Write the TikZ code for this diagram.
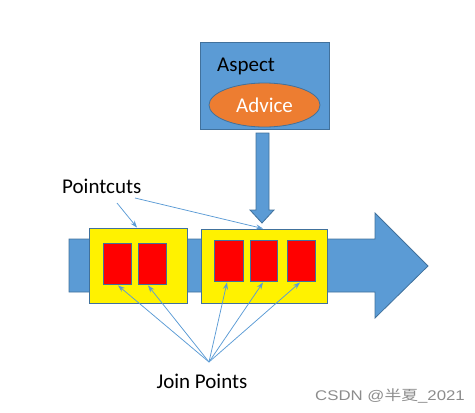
\documentclass[tikz,border=0pt]{standalone}
\usepackage{fontspec}
\setmainfont{Carlito}
\newfontfamily\cjk{Noto Sans CJK SC}
\newfontfamily\wmfont{Liberation Sans}
\usetikzlibrary{calc,arrows.meta,shapes.geometric}
\definecolor{aBlue}{HTML}{5B9BD5}
\definecolor{aBorder}{HTML}{41719C}
\definecolor{aOrange}{HTML}{ED7D31}
\tikzset{
  bluefill/.style={fill=aBlue,draw=aBorder,line width=0.8pt},
  ybox/.style={rectangle,fill=yellow,draw=aBorder,line width=0.9pt,inner sep=0},
  rbox/.style={rectangle,fill=red,draw=aBorder,line width=0.9pt,inner sep=0,minimum height=41pt},
  lbl/.style={font=\fontsize{21}{25}\selectfont,inner sep=0},
  pointer/.style={draw=aBlue,line width=0.75pt,-{Stealth[length=7pt,width=5pt]}},
}
\begin{document}
\begin{tikzpicture}[x=1pt,y=-1pt]
\useasboundingbox (0,0) rectangle (475,413);
% Aspect box
\node[rectangle,bluefill,minimum width=129pt,minimum height=87pt,inner sep=0] (aspect) at (264.5,85.5) {};
\node[lbl,anchor=west] (aspectlbl) at (217,66) {Aspect};
\node[ellipse,fill=aOrange,draw=aBorder,line width=0.8pt,minimum width=111pt,minimum height=44pt,inner sep=0,text=white,font=\fontsize{21}{25}\selectfont] (advice) at (264.5,105) {Advice};
% down arrow
\draw[bluefill] (256,133) -- (269,133) -- (269,210) -- (274,210) -- (262,223) -- (250,210) -- (256,210) -- cycle;
% big arrow
\draw[bluefill] (69,239) -- (375,239) -- (375,213) -- (428,266) -- (375,318) -- (375,292) -- (69,292) -- cycle;
% yellow boxes
\node[ybox,minimum width=98pt,minimum height=75pt] (y1) at (138,265.5) {};
\node[ybox,minimum width=126pt,minimum height=74pt] (y2) at (264,266) {};
% red boxes
\node[rbox,minimum width=28pt] (r1) at (117,263.5) {};
\node[rbox,minimum width=28pt] (r2) at (152,263.5) {};
\node[rbox,minimum width=29pt] (r3) at (228.5,260.5) {};
\node[rbox,minimum width=27pt] (r4) at (263.5,260.5) {};
\node[rbox,minimum width=28pt] (r5) at (301,260.5) {};
% labels
\node[lbl,anchor=west] (pc) at (62,186) {Pointcuts};
\node[lbl] (jp) at (202,381) {Join Points};
\coordinate (pcA) at (117,203);
\coordinate (pcB) at (135,198);
\coordinate (jpc) at (209,362);
\draw[pointer] (pcA) -- (y1.north -| 137,0);
\draw[pointer] (pcB) -- (y2.north -| 263,0);
\draw[pointer] (jpc) -- ($(r1.south)+(1,1)$);
\draw[pointer] (jpc) -- ($(r2.south)+(-4,1)$);
\draw[pointer] (jpc) -- ($(r3.south)+(-1.5,1)$);
\draw[pointer] (jpc) -- ($(r4.south)+(-0.5,1)$);
\draw[pointer] (jpc) -- ($(r5.south)+(-1,1)$);
% watermark
\node[inner sep=0,text=black!45,anchor=west] (wm) at (315,396) {\scalebox{1.2}[1]{\fontsize{14}{16}\selectfont\wmfont CSDN @{\cjk 半夏}\_2021}};
\end{tikzpicture}
\end{document}
